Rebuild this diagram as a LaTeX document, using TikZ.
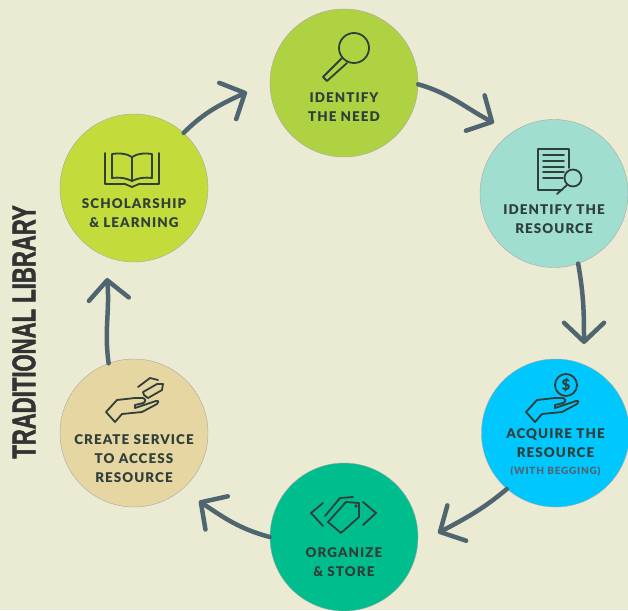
\documentclass[tikz,border=0pt]{standalone}
\usepackage{fontspec}
\usetikzlibrary{arrows.meta}
\newfontfamily\labelfont[LetterSpace=8]{Lato Black}
\newfontfamily\titlefont[FakeStretch=0.67,FakeBold=1.5]{Liberation Sans Bold}
\definecolor{pagecol}{HTML}{EBEBD4}
\definecolor{flowcol}{HTML}{4F6570}
\definecolor{inkcol}{HTML}{2F3F3A}
\definecolor{needcol}{HTML}{AED242}
\definecolor{findcol}{HTML}{A0DFCF}
\definecolor{acquirecol}{HTML}{00C8FF}
\definecolor{storecol}{HTML}{00BD8E}
\definecolor{servicecol}{HTML}{E6D6A2}
\definecolor{learncol}{HTML}{C3DC3C}
\tikzset{
  stage/.style={circle, draw=black!35, line width=0.4pt, minimum size=148pt, inner sep=0pt},
  caption/.style={text=inkcol, align=center, font=\fontsize{13.4}{19}\selectfont\labelfont},
  flow/.style={draw=flowcol, line width=4.5pt, line cap=round, line join=round,
    -{Straight Barb[length=19pt,width=40pt,round]}},
  icon/.style={draw=inkcol, line width=1.8pt, line join=round, line cap=round},
  handicon/.pic={
    \draw[icon] (-24,-4) -- (-13,8) -- (5,10) -- (13,10) .. controls (16,9) and (16,6) .. (13,5) -- (5,3) -- (5,0) -- (26,7)
      .. controls (29,8) and (29,5) .. (27,4) -- (12,-4) -- (-8,-6) -- (-15,-14) -- cycle;
  }
}
\begin{document}
\begin{tikzpicture}[x=1pt,y=1pt]
    \clip (0,0) rectangle (628,-610);
    \fill[pagecol] (0,0) rectangle (628,-610);

    \node[stage, fill=needcol] (need) at (344,-83) {};
    \node[stage, fill=findcol] (find) at (554,-193.5) {};
    \node[stage, fill=acquirecol] (acquire) at (555.5,-433) {};
    \node[stage, fill=storecol] (store) at (344,-537) {};
    \node[stage, fill=servicecol] (service) at (134,-433) {};
    \node[stage, fill=learncol] (learn) at (134,-188) {};

    \node[caption] (needtext) at (344,-107.5) {IDENTIFY\\THE NEED};
    \node[caption] (findtext) at (554,-219.5) {IDENTIFY THE\\RESOURCE};
    \node[caption] (acquiretext) at (555.5,-443.5) {ACQUIRE THE\\RESOURCE};
    \node[caption, text=flowcol, font=\fontsize{10}{10}\selectfont\labelfont] (beggingtext) at (555.5,-471.5) {(WITH BEGGING)};
    \node[caption] (storetext) at (344,-562.5) {ORGANIZE\\\& STORE};
    \node[caption] (servicetext) at (134,-459) {CREATE SERVICE\\TO ACCESS\\RESOURCE};
    \node[caption] (learntext) at (134,-213.5) {SCHOLARSHIP\\\& LEARNING};

    \node[rotate=90, text=black!80, font=\fontsize{33}{33}\selectfont\titlefont] (title) at (24,-332) {TRADITIONAL LIBRARY};

    \coordinate (tofind) at (494,-123);
    \coordinate (toacquire) at (584,-344);
    \coordinate (tostore) at (438,-533);
    \coordinate (toservice) at (199,-501);
    \coordinate (tolearn) at (107,-278);
    \coordinate (toneed) at (247,-92);

    \draw[flow] (need.-1) to[out=-16, in=152] (tofind);
    \draw[flow] (find.-71) to[out=-80, in=90] (toacquire);
    \draw[flow] (acquire.229) to[out=220, in=28] (tostore);
    \draw[flow] (store.180) to[out=165, in=-34] (toservice);
    \draw[flow] (service.110) to[out=98, in=-85] (tolearn);
    \draw[flow] (learn.48) to[out=45, in=205] (toneed);

    % magnifier
    \draw[icon] (354,-48) circle (15);
    \draw[icon] (342,-58) -- (323,-77) -- (327,-81) -- (347,-63);

    % document
    \draw[icon] (569,-168) -- (569,-149) -- (538,-149) -- (538,-190) -- (562,-190);
    \foreach \liney/\lineend in {155/564,161/564,167/564,172/564,178/563}
      \draw[icon] (543,-\liney) -- (\lineend,-\liney);
    \draw[icon, fill=findcol] (573,-178) circle (8.5);
    \draw[icon] (567,-185) -- (557,-194);

    % coin in hand
    \pic at (550,-408) {handicon};
    \draw[icon] (566,-385) circle (11);
    \node[text=inkcol, font=\fontsize{15}{15}\selectfont\labelfont] (dollar) at (566,-385) {\$};

    % tags
    \draw[icon] (323,-503) -- (311,-513) -- (323,-526);
    \draw[icon] (363,-502) -- (376,-513) -- (363,-525);
    \draw[icon] (328,-522) -- (346,-502) -- (359,-503) -- (359,-517) -- (341,-533) -- cycle;
    \draw[icon] (325,-516) -- (340,-498) -- (353,-497);
    \draw[icon, line width=1pt] (356,-506) circle (1.2);

    % tag over hand
    \pic at (130,-408) {handicon};
    \draw[icon] (143,-392) -- (157,-384) -- (163,-384) -- (162,-390) -- (148,-398) -- (144,-395) -- cycle;
    \draw[icon] (138,-387) -- (150,-378) -- (158,-380);

    % book
    \draw[icon] (132,-157) .. controls (126,-153) and (118,-153) .. (112,-154) -- (112,-178) .. controls (120,-177) and (126,-178) .. (132,-181)
      .. controls (138,-178) and (144,-177) .. (152,-178) -- (152,-154) .. controls (146,-153) and (138,-153) .. (132,-157) -- cycle;
    \draw[icon] (132,-157) -- (132,-181);
    \draw[icon] (105,-153) -- (105,-184) -- (125,-184) -- (132,-187) -- (139,-184) -- (159,-184) -- (159,-153);
\end{tikzpicture}
\end{document}
